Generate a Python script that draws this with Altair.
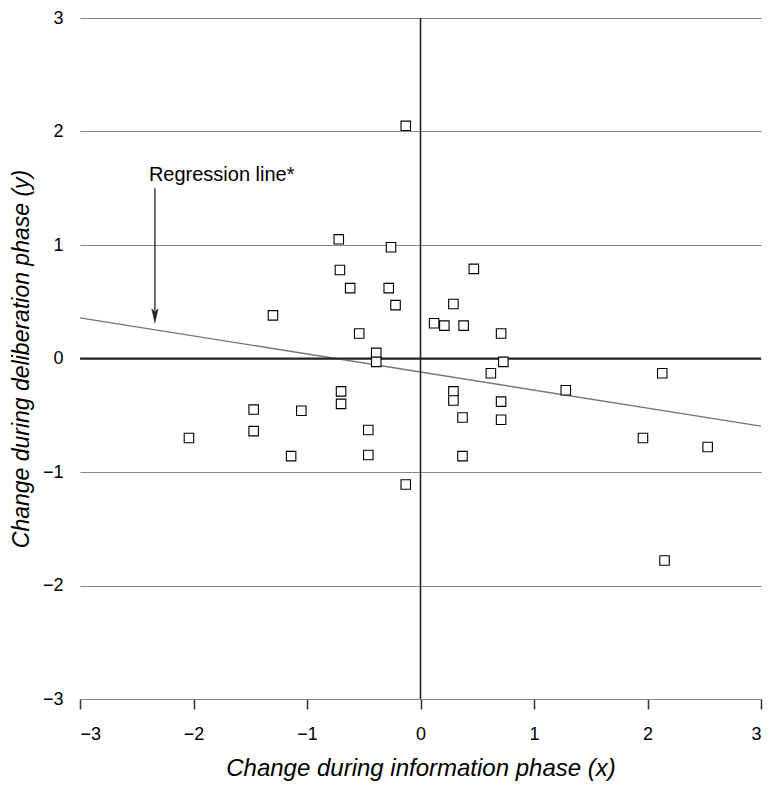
import altair as alt
import pandas as pd

# Data points
xs = [-0.13, -0.72, -0.26, -0.71, -0.62, -0.28, -0.22, -1.30, -0.54, -0.39, -0.39,
      0.47, 0.29, 0.12, 0.21, 0.38, 0.71, 0.73,
      0.62, 2.13, 0.29, 0.29, 1.28, 0.71, 0.37, 0.71, 1.96, 2.53, 0.37, -0.13, 2.15,
      -2.04, -1.47, -1.47, -1.05, -1.14, -0.70, -0.70, -0.46, -0.46]
ys = [2.05, 1.05, 0.98, 0.78, 0.62, 0.62, 0.47, 0.38, 0.22, 0.05, -0.03,
      0.79, 0.48, 0.31, 0.29, 0.29, 0.22, -0.03,
      -0.13, -0.13, -0.29, -0.37, -0.28, -0.38, -0.52, -0.54, -0.70, -0.78, -0.86, -1.11, -1.78,
      -0.70, -0.45, -0.64, -0.46, -0.86, -0.29, -0.40, -0.63, -0.85]

# Regression line endpoints
reg_x = [-3, 3]
reg_y = [0.358, -0.596]

# Annotation
ann_text = ["Regression line*"]
ann_x = [-2.393]
ann_y = [1.565]
arrow_x = [-2.34]
arrow_y_top = [1.50]
arrow_y_bottom = [0.42]
arrow_head_y = [0.375]

ticks = [-3, -2, -1, 0, 1, 2, 3]

FONT = "Liberation Sans"

xscale = alt.Scale(domain=[-3, 3], nice=False, zero=False)
yscale = alt.Scale(domain=[-3, 3], nice=False, zero=False)

xaxis = alt.Axis(values=ticks, grid=False, domain=True, domainColor="#888888", domainWidth=1.2,
                 ticks=True, tickSize=10, tickColor="#333333", tickWidth=1.5,
                 labelFont=FONT, labelFontSize=18, labelColor="black", labelPadding=16,
                 title="Change during information phase (x)", titleFont=FONT, titleFontSize=24,
                 titleFontStyle="italic", titleFontWeight="normal", titleColor="black", titlePadding=13)
yaxis = alt.Axis(values=ticks, grid=True, gridColor="#888888", gridWidth=1.2,
                 domain=False, ticks=False,
                 labelFont=FONT, labelFontSize=18, labelColor="black", labelPadding=17,
                 title="Change during deliberation phase (y)", titleFont=FONT, titleFontSize=23,
                 titleFontStyle="italic", titleFontWeight="normal", titleColor="black", titlePadding=9)


def X(field):
    return alt.X(field, type="quantitative", scale=xscale, axis=xaxis)


def Y(field):
    return alt.Y(field, type="quantitative", scale=yscale, axis=yaxis)


pts = pd.DataFrame({"x": xs, "y": ys})
reg = pd.DataFrame({"x": reg_x, "y": reg_y})
zero_v = pd.DataFrame({"x": [0], "y": [-3], "y2": [3]})
zero_h = pd.DataFrame({"y": [0], "x": [-3], "x2": [3]})
arrow = pd.DataFrame({"x": arrow_x, "y": arrow_y_top, "y2": arrow_y_bottom})
head = pd.DataFrame({"x": arrow_x, "y": arrow_head_y})
ann = pd.DataFrame({"x": ann_x, "y": ann_y, "t": ann_text})

reg_line = alt.Chart(reg).mark_line(color="#777777", strokeWidth=1.4).encode(x=X("x"), y=Y("y"))

vline = alt.Chart(zero_v).mark_rule(color="#222222", strokeWidth=1.6).encode(
    x=X("x"), y=Y("y"), y2="y2:Q")
hline = alt.Chart(zero_h).mark_rule(color="#222222", strokeWidth=1.8).encode(
    y=Y("y"), x=X("x"), x2="x2:Q")

points = alt.Chart(pts).mark_point(shape="square", size=90, fill="white", fillOpacity=1,
                                   stroke="black", strokeWidth=1.1, opacity=1).encode(
    x=X("x"), y=Y("y"))

arrow_line = alt.Chart(arrow).mark_rule(color="#222222", strokeWidth=1.3).encode(
    x=X("x"), y=Y("y"), y2="y2:Q")
arrow_head = alt.Chart(head).mark_point(
    shape="M-0.45,-1L0,-0.6L0.45,-1L0,1Z", size=200, filled=True, fill="#222222",
    stroke="#222222", strokeWidth=0.5, opacity=1).encode(x=X("x"), y=Y("y"))

label = alt.Chart(ann).mark_text(align="left", baseline="alphabetic", font=FONT, fontSize=20,
                                 color="black").encode(x=X("x"), y=Y("y"), text="t:N")

chart = alt.layer(reg_line, vline, hline, points, arrow_line, arrow_head, label).properties(
    width=681, height=681,
    autosize=alt.AutoSizeParams(type="none"),
    padding={"left": 72, "top": 10, "right": 6, "bottom": 84},
).configure_view(stroke=None)

chart.save("out.html", embed_options={"renderer": "svg", "actions": False})
